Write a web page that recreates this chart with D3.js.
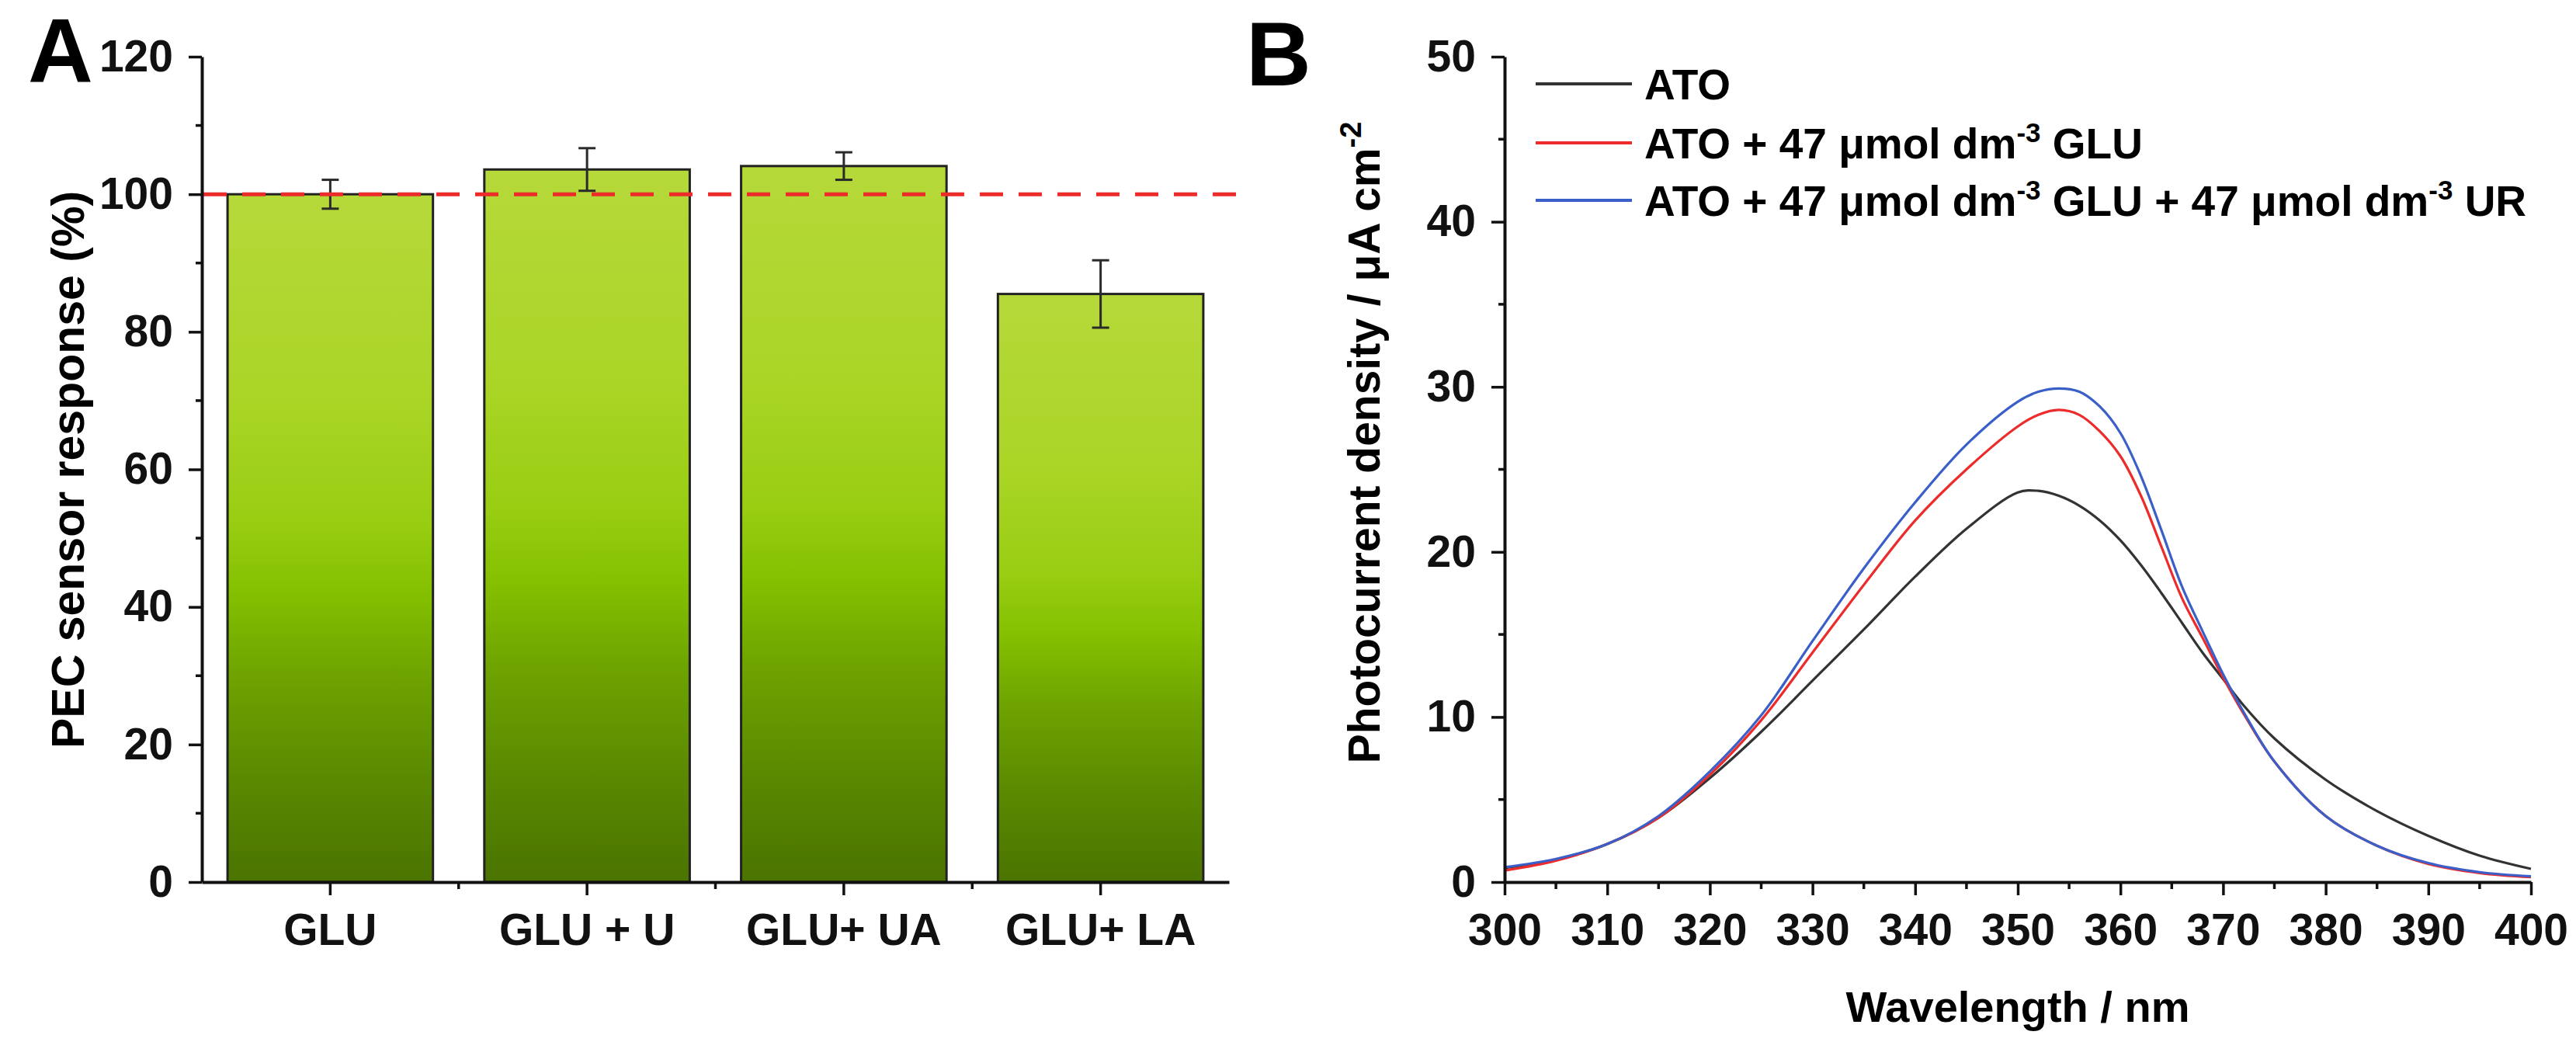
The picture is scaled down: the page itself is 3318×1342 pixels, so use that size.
<!DOCTYPE html>
<html>
<head>
<meta charset="utf-8">
<script src="https://cdn.jsdelivr.net/npm/d3@7"></script>
<style>
  body { margin: 0; background: #fff; }
  svg { display: block; font-family: "Liberation Sans", Arial, sans-serif; font-weight: bold; }
</style>
</head>
<body>
<svg id="chart"></svg>
<script>
// Panel A data
const categories = ["GLU", "GLU + U", "GLU+ UA", "GLU+ LA"];
const responses = [100.0, 103.6, 104.1, 85.5];
const responseErrors = [2.1, 3.1, 2.0, 4.9];
const referenceLevel = 100;
const responseTicks = [0, 20, 40, 60, 80, 100, 120];

// Panel B data
const wavelengths = [300, 305, 310, 315, 320, 325, 330, 335, 340, 345, 350, 352, 354, 356, 358,
  360, 362, 364, 366, 368, 370, 372, 375, 380, 385, 390, 395, 400];
const atoCurrent = [0.85, 1.35, 2.3, 3.9, 6.3, 9.1, 12.2, 15.3, 18.5, 21.4, 23.6, 23.7, 23.4, 22.8, 21.9,
  20.7, 19.2, 17.5, 15.7, 13.9, 12.3, 10.7, 8.7, 6.2, 4.3, 2.8, 1.6, 0.8];
const gluCurrent = [0.7, 1.3, 2.3, 3.9, 6.5, 9.8, 13.9, 18.0, 21.9, 25.0, 27.6, 28.3, 28.6, 28.3, 27.3,
  25.8, 23.4, 20.3, 17.2, 14.8, 12.4, 10.2, 7.3, 4.0, 2.2, 1.1, 0.55, 0.3];
const gluUrCurrent = [0.9, 1.4, 2.3, 4.0, 6.7, 10.1, 14.6, 19.0, 23.0, 26.5, 29.1, 29.7, 29.9, 29.7, 28.8,
  27.2, 24.6, 21.3, 17.9, 15.2, 12.6, 10.3, 7.3, 4.0, 2.2, 1.15, 0.6, 0.35];
const seriesColors = ["#333333", "#ec2b2b", "#3a5fc8"];
const wavelengthTicks = [300, 310, 320, 330, 340, 350, 360, 370, 380, 390, 400];
const currentTicks = [0, 10, 20, 30, 40, 50];

const width = 3318, height = 1342;
const plotTop = 73, plotBottom = 1136;

const svg = d3.select("#chart")
  .attr("width", width)
  .attr("height", height)
  .attr("viewBox", `0 0 ${width} ${height}`);

svg.append("rect").attr("width", width).attr("height", height).attr("fill", "#fff");

// gradient for the bars
const grad = svg.append("defs").append("linearGradient")
  .attr("id", "barFill")
  .attr("x1", 0).attr("y1", 0).attr("x2", 0).attr("y2", 1);
[[0, "#b6d93a"], [0.3, "#aad526"], [0.48, "#98cd12"], [0.58, "#84c000"],
 [0.7, "#6ea300"], [0.85, "#5a8900"], [1, "#4a7400"]].forEach(([o, c]) => {
  grad.append("stop").attr("offset", o).attr("stop-color", c);
});

function styleAxis(g) {
  g.select(".domain").attr("stroke", "#111").attr("stroke-width", 4);
  g.selectAll(".tick line").attr("stroke", "#111").attr("stroke-width", 3.5);
  g.selectAll(".tick text").attr("fill", "#111").style("font-size", "57px").style("font-weight", "bold")
    .style("font-family", "'Liberation Sans', Arial, sans-serif");
}

// ---------- Panel A ----------
const xA = d3.scaleBand()
  .domain(categories)
  .range([260, 1583])
  .paddingInner(0.2)
  .paddingOuter(0.1);

const yA = d3.scaleLinear().domain([0, 120]).range([plotBottom, plotTop]);

const barsA = categories.map((c, i) => ({ cat: c, v: responses[i], e: responseErrors[i] }));

svg.append("g")
  .selectAll("rect")
  .data(barsA)
  .join("rect")
    .attr("x", d => xA(d.cat))
    .attr("y", d => yA(d.v))
    .attr("width", xA.bandwidth())
    .attr("height", d => yA(0) - yA(d.v))
    .attr("fill", "url(#barFill)")
    .attr("stroke", "#222")
    .attr("stroke-width", 3);

// error bars
const err = svg.append("g").attr("stroke", "#2a2a2a").attr("stroke-width", 3);
barsA.forEach(d => {
  const cx = xA(d.cat) + xA.bandwidth() / 2;
  err.append("line").attr("x1", cx).attr("x2", cx).attr("y1", yA(d.v + d.e)).attr("y2", yA(d.v - d.e));
  [d.v + d.e, d.v - d.e].forEach(v => {
    err.append("line").attr("x1", cx - 11).attr("x2", cx + 11).attr("y1", yA(v)).attr("y2", yA(v));
  });
});

// reference line at 100 %
svg.append("line")
  .attr("x1", 262).attr("x2", 1592)
  .attr("y1", yA(referenceLevel)).attr("y2", yA(referenceLevel))
  .attr("stroke", "#ec2b2b")
  .attr("stroke-width", 5)
  .attr("stroke-dasharray", "30,20");

// axes A
const yAxisA = svg.append("g")
  .attr("transform", "translate(260,0)")
  .call(d3.axisLeft(yA).tickValues(responseTicks).tickSize(17).tickSizeOuter(0).tickPadding(20));
styleAxis(yAxisA);
svg.append("g").attr("stroke", "#111").attr("stroke-width", 3.5)
  .selectAll("line").data(d3.range(10, 120, 20)).join("line")
  .attr("x1", 252).attr("x2", 260).attr("y1", d => yA(d)).attr("y2", d => yA(d));

const xAxisA = svg.append("g")
  .attr("transform", `translate(0,${plotBottom})`)
  .call(d3.axisBottom(xA).tickSize(17).tickSizeOuter(0).tickPadding(24));
styleAxis(xAxisA);
svg.append("g").attr("stroke", "#111").attr("stroke-width", 3.5)
  .selectAll("line").data(categories.slice(1)).join("line")
  .attr("x1", d => xA(d) - xA.step() * xA.paddingInner() / 2)
  .attr("x2", d => xA(d) - xA.step() * xA.paddingInner() / 2)
  .attr("y1", plotBottom).attr("y2", plotBottom + 9);

svg.append("text")
  .attr("transform", "translate(108,605) rotate(-90)")
  .attr("text-anchor", "middle")
  .style("font-size", "59px")
  .text("PEC sensor response (%)");

svg.append("text").attr("x", 36).attr("y", 106).style("font-size", "116px").text("A");

// ---------- Panel B ----------
const xB = d3.scaleLinear().domain([300, 400]).range([1938, 3260]);
const yB = d3.scaleLinear().domain([0, 50]).range([plotBottom, plotTop]);

const series = [atoCurrent, gluCurrent, gluUrCurrent];
const line = d3.line()
  .x((d, i) => xB(wavelengths[i]))
  .y(d => yB(d))
  .curve(d3.curveCatmullRom.alpha(0.5));

svg.append("g")
  .attr("fill", "none")
  .attr("stroke-width", 3.2)
  .selectAll("path")
  .data(series)
  .join("path")
    .attr("stroke", (d, i) => seriesColors[i])
    .attr("d", line);

const xAxisB = svg.append("g")
  .attr("transform", `translate(0,${plotBottom})`)
  .call(d3.axisBottom(xB).tickValues(wavelengthTicks).tickSize(17).tickSizeOuter(0).tickPadding(24));
styleAxis(xAxisB);
svg.append("g").attr("stroke", "#111").attr("stroke-width", 3.5)
  .selectAll("line").data(d3.range(305, 400, 10)).join("line")
  .attr("x1", d => xB(d)).attr("x2", d => xB(d)).attr("y1", plotBottom).attr("y2", plotBottom + 9);

const yAxisB = svg.append("g")
  .attr("transform", "translate(1938,0)")
  .call(d3.axisLeft(yB).tickValues(currentTicks).tickSize(17).tickSizeOuter(0).tickPadding(20));
styleAxis(yAxisB);
svg.append("g").attr("stroke", "#111").attr("stroke-width", 3.5)
  .selectAll("line").data(d3.range(5, 50, 10)).join("line")
  .attr("x1", 1930).attr("x2", 1938).attr("y1", d => yB(d)).attr("y2", d => yB(d));

svg.append("text")
  .attr("x", (xB(300) + xB(400)) / 2).attr("y", 1316)
  .attr("text-anchor", "middle")
  .style("font-size", "56px")
  .text("Wavelength / nm");

const yTitleB = svg.append("text")
  .attr("transform", "translate(1777,570) rotate(-90)")
  .attr("text-anchor", "middle")
  .style("font-size", "57px");
yTitleB.append("tspan").text("Photocurrent density / \u03bcA cm");
yTitleB.append("tspan").attr("dy", -24).style("font-size", "38px").text("-2");

svg.append("text").attr("x", 1605).attr("y", 110).style("font-size", "116px").text("B");

// legend
const legendRows = [
  [["ATO", false]],
  [["ATO + 47 \u03bcmol dm", false], ["-3", true], [" GLU", false]],
  [["ATO + 47 \u03bcmol dm", false], ["-3", true], [" GLU + 47 \u03bcmol dm", false], ["-3", true], [" UR", false]]
];
const legendY = [108, 184, 258];
const legend = svg.append("g");
legendRows.forEach((parts, i) => {
  legend.append("line")
    .attr("x1", 1978).attr("x2", 2102)
    .attr("y1", legendY[i]).attr("y2", legendY[i])
    .attr("stroke", seriesColors[i]).attr("stroke-width", 4);
  const t = legend.append("text")
    .attr("x", 2118).attr("y", legendY[i] + 20)
    .style("font-size", "55px");
  parts.forEach(([s, sup], k) => {
    const ts = t.append("tspan").text(s);
    if (sup) ts.attr("dy", -21).style("font-size", "35px");
    else if (k > 0) ts.attr("dy", 21);
  });
});
</script>
</body>
</html>
